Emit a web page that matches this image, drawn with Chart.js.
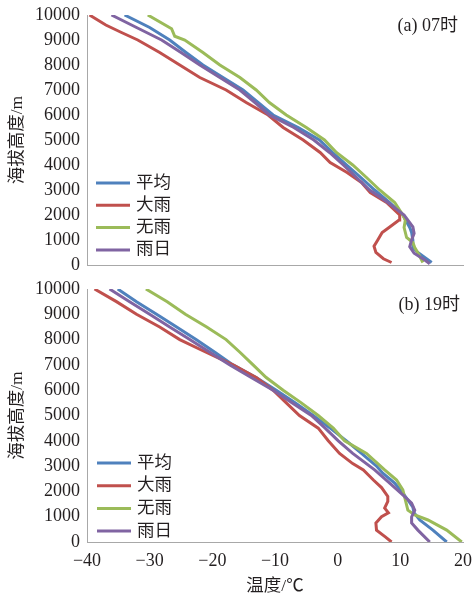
<!DOCTYPE html>
<html lang="zh">
<head>
    <meta charset="UTF-8">
    <title>温度廓线</title>
    <script src="https://cdn.jsdelivr.net/npm/chart.js"></script>
    <style>
        body {
            margin: 0;
            background: white;
        }
        #wrap {
            position: relative;
            width: 474px;
            height: 598px;
            overflow: hidden;
        }
        #chartA {
            position: absolute;
            left: 0;
            top: 0;
        }
        #chartB {
            position: absolute;
            left: 0;
            top: 280px;
        }
    </style>
</head>
<body>
    <div id="wrap">
        <canvas id="chartA" width="474" height="280"></canvas>
        <canvas id="chartB" width="474" height="318"></canvas>
    </div>

    <script>
        // 图例名称
        const seriesNames = ['平均', '大雨', '无雨', '雨日'];
        const seriesColors = ['#4f81bd', '#c0504d', '#9bbb59', '#8064a2'];

        // 坐标轴
        const tempMin = -40, tempMax = 20, tempStep = 10;
        const heightMin = 0, heightMax = 10000, heightStep = 1000;

        // (a) 07时  高度(m) / 温度(℃)
        const h07Mean = [100, 300, 500, 700, 1000, 1300, 1500, 2000, 2500, 3000, 3500, 4000, 4500, 5000, 5500, 6000, 6500, 7000, 7500, 8000, 8500, 9000, 9500, 10000];
        const t07Mean = [15.0, 13.9, 12.8, 12.0, 12.0, 11.8, 11.5, 10.4, 8.3, 5.9, 3.7, 1.4, -0.8, -2.9, -6.3, -10.3, -12.7, -15.1, -18.3, -21.5, -24.2, -26.8, -30.0, -34.0];

        const h07Heavy = [100, 250, 500, 750, 1000, 1300, 1500, 1800, 2000, 2500, 2900, 3300, 3700, 4100, 4500, 5000, 5500, 6000, 6500, 7000, 7500, 8000, 8500, 9000, 9300, 9600, 10000];
        const t07Heavy = [8.6, 7.3, 6.1, 5.8, 6.4, 7.1, 8.2, 9.8, 9.9, 7.8, 5.2, 3.8, 1.5, -1.2, -2.8, -5.5, -8.7, -11.1, -14.6, -17.8, -22.0, -25.2, -28.4, -31.9, -34.5, -37.0, -39.6];

        const h07Dry = [100, 400, 700, 900, 1100, 1300, 1500, 1800, 2000, 2500, 3000, 3500, 4000, 4500, 5000, 5500, 6000, 6500, 7000, 7500, 8000, 8500, 9000, 9150, 9450, 10000];
        const t07Dry = [13.6, 13.0, 12.3, 12.0, 11.0, 10.8, 10.6, 10.8, 10.4, 9.1, 6.7, 4.6, 2.4, -0.2, -2.1, -5.0, -8.2, -10.9, -13.0, -15.6, -18.8, -21.5, -24.4, -26.0, -26.5, -30.3];

        const h07Rain = [50, 200, 470, 730, 1000, 1270, 1530, 2000, 2500, 3000, 3500, 4000, 4500, 5000, 5500, 6000, 6500, 7000, 7500, 8000, 8500, 9000, 9500, 10000];
        const t07Rain = [14.7, 13.9, 12.2, 11.5, 11.8, 12.2, 12.0, 10.6, 8.0, 5.1, 3.0, 0.9, -1.3, -3.8, -7.0, -10.9, -13.2, -15.6, -18.8, -22.0, -25.0, -28.1, -32.1, -36.1];

        // (b) 19时
        const h19Mean = [0, 470, 870, 1150, 1380, 1660, 1940, 2330, 2720, 3000, 3500, 4000, 4500, 5000, 5500, 6000, 6500, 7000, 7500, 8000, 8500, 9000, 9500, 10000];
        const t19Mean = [17.4, 15.2, 13.1, 12.2, 12.0, 11.2, 10.4, 9.1, 7.2, 6.2, 3.8, 1.4, -1.2, -3.9, -6.8, -9.8, -13.0, -16.7, -19.6, -22.6, -25.7, -28.9, -32.1, -35.1];

        const h19Heavy = [0, 200, 470, 750, 1000, 1150, 1340, 1600, 1800, 2150, 2450, 2850, 3100, 3500, 4000, 4500, 5000, 5500, 6000, 6500, 7000, 7500, 8000, 8500, 9000, 9500, 10000];
        const t19Heavy = [8.6, 7.6, 6.2, 6.1, 7.0, 8.1, 7.5, 8.0, 8.0, 7.0, 5.7, 4.1, 2.4, 0.3, -1.5, -3.1, -6.1, -8.2, -10.3, -13.0, -16.7, -21.0, -25.2, -28.4, -32.1, -35.3, -38.8];

        const h19Dry = [0, 470, 870, 1070, 1260, 1660, 2060, 2450, 2850, 3500, 4000, 4500, 5000, 5500, 6000, 6500, 7000, 7500, 8000, 8500, 9000, 9500, 10000];
        const t19Dry = [19.8, 17.4, 14.4, 12.3, 11.2, 10.8, 10.4, 9.4, 7.5, 4.6, 1.1, -0.7, -3.1, -5.8, -8.7, -11.4, -13.5, -15.6, -17.8, -20.9, -24.3, -27.2, -30.6];

        const h19Rain = [0, 470, 750, 990, 1260, 1540, 1860, 2330, 2850, 3500, 4000, 4500, 5000, 5500, 6000, 6500, 7000, 7500, 8000, 8500, 9000, 9500, 10000];
        const t19Rain = [14.7, 12.8, 11.8, 11.8, 12.3, 11.8, 10.4, 8.3, 5.9, 2.4, 0.1, -2.0, -4.2, -7.3, -10.3, -13.8, -17.2, -20.4, -23.6, -26.8, -30.0, -33.2, -36.4];

        const fontFamily = "'Liberation Serif', 'Noto Sans CJK SC', serif";
        const axisColor = '#a8a8a8';
        const textColor = '#231f20';

        function toPoints(temps, heights) {
            return temps.map((t, i) => ({ x: t, y: heights[i] }));
        }

        // 图内图例 + 面板标注
        const innerLegend = {
            id: 'innerLegend',
            afterDraw(chart, args, opts) {
                const ctx = chart.ctx;
                ctx.save();
                ctx.font = '17.5px ' + fontFamily;
                ctx.textBaseline = 'middle';
                chart.data.datasets.forEach((ds, i) => {
                    const y = opts.y + i * opts.gap;
                    ctx.strokeStyle = ds.borderColor;
                    ctx.lineWidth = 3;
                    ctx.beginPath();
                    ctx.moveTo(opts.x, y);
                    ctx.lineTo(opts.x + 34, y);
                    ctx.stroke();
                    ctx.fillStyle = textColor;
                    ctx.textAlign = 'left';
                    ctx.fillText(ds.label, opts.x + 40, y);
                });
                ctx.font = '18px ' + fontFamily;
                ctx.textAlign = 'right';
                ctx.fillText(opts.tag, opts.tagX, opts.tagY);
                ctx.restore();
            }
        };

        function makeChart(id, temps, heights, cfg) {
            const datasets = seriesNames.map((name, i) => ({
                label: name,
                data: toPoints(temps[i], heights[i]),
                borderColor: seriesColors[i],
                backgroundColor: seriesColors[i],
                borderWidth: 3,
                pointRadius: 0,
                showLine: true,
                order: 4 - i
            }));

            return new Chart(document.getElementById(id).getContext('2d'), {
                type: 'scatter',
                data: { datasets: datasets },
                plugins: [innerLegend],
                options: {
                    responsive: false,
                    animation: false,
                    layout: { padding: cfg.padding },
                    plugins: {
                        legend: { display: false },
                        tooltip: { enabled: false },
                        innerLegend: cfg.legend
                    },
                    scales: {
                        x: {
                            type: 'linear',
                            min: tempMin,
                            max: tempMax,
                            grid: { display: false, drawTicks: false },
                            border: { color: axisColor, width: 1 },
                            ticks: {
                                display: cfg.showX,
                                stepSize: tempStep,
                                padding: 8,
                                color: textColor,
                                font: { family: fontFamily, size: 18 },
                                callback: v => v < 0 ? '\u2212' + Math.abs(v) : String(v)
                            },
                            title: {
                                display: cfg.showX,
                                text: '温度/℃',
                                color: textColor,
                                padding: { top: 0, bottom: 1 },
                                font: { family: fontFamily, size: 17.5 }
                            },
                            afterFit: s => {
                                s.height = cfg.xHeight;
                                s.paddingLeft = 0;
                                s.paddingRight = 0;
                            }
                        },
                        y: {
                            min: heightMin,
                            max: heightMax,
                            grid: { display: false, drawTicks: false },
                            border: { color: axisColor, width: 1 },
                            ticks: {
                                stepSize: heightStep,
                                padding: 7,
                                color: textColor,
                                font: { family: fontFamily, size: 18 },
                                callback: v => String(v)
                            },
                            title: {
                                display: true,
                                text: '海拔高度/m',
                                color: textColor,
                                padding: { top: 7, bottom: 0 },
                                font: { family: fontFamily, size: 17.5 }
                            },
                            afterFit: s => {
                                s.width = 87;
                                s.paddingTop = 0;
                                s.paddingBottom = 0;
                            }
                        }
                    }
                }
            });
        }

        makeChart('chartA',
            [t07Mean, t07Heavy, t07Dry, t07Rain],
            [h07Mean, h07Heavy, h07Dry, h07Rain],
            {
                padding: { left: 0, right: 11, top: 15, bottom: 15 },
                showX: false,
                xHeight: 0,
                legend: { x: 96, y: 183, gap: 22.3, tag: '(a) 07时', tagX: 458, tagY: 26 }
            });

        makeChart('chartB',
            [t19Mean, t19Heavy, t19Dry, t19Rain],
            [h19Mean, h19Heavy, h19Dry, h19Rain],
            {
                padding: { left: 0, right: 11, top: 9, bottom: 0 },
                showX: true,
                xHeight: 56,
                legend: { x: 97, y: 183, gap: 22.7, tag: '(b) 19时', tagX: 460, tagY: 25 }
            });
    </script>
</body>
</html>
